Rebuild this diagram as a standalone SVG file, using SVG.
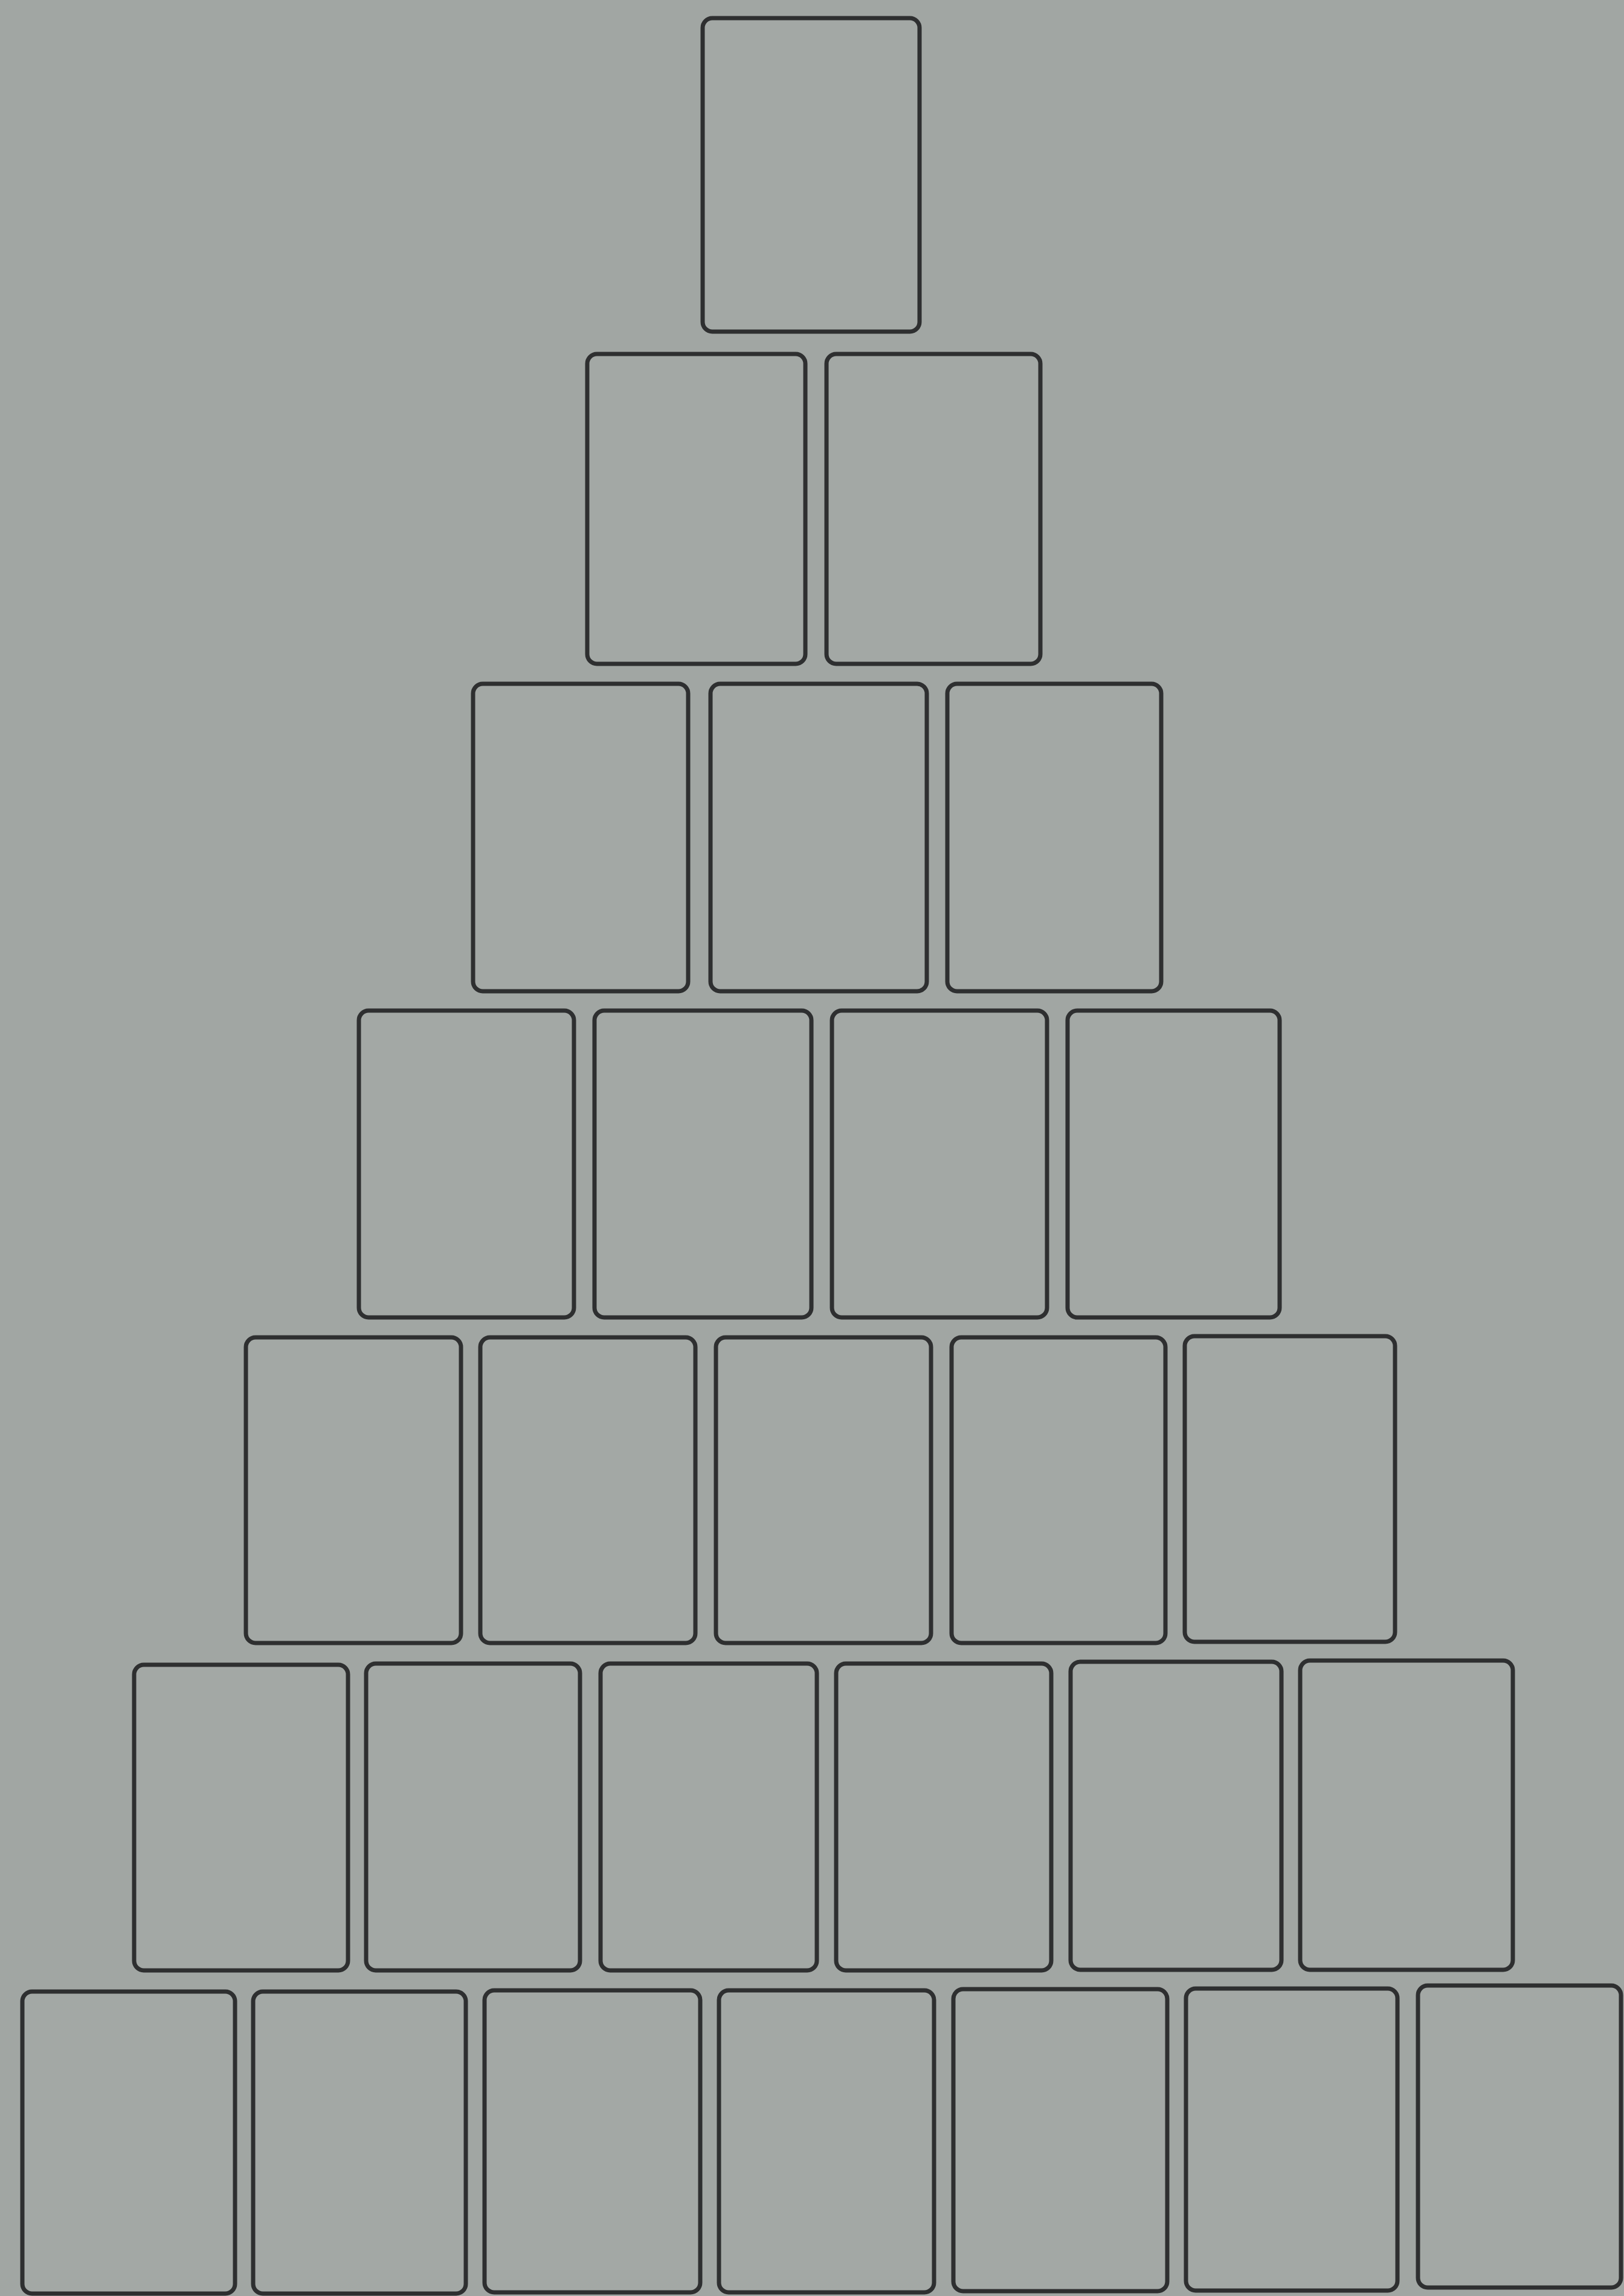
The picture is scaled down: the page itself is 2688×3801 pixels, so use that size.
<svg xmlns="http://www.w3.org/2000/svg" width="2688" height="3801" viewBox="0 0 2688 3801">
<style>
.card{fill:#a3a8a5;stroke:#2e2f30;stroke-width:7}
</style>
<rect x="0" y="0" width="2688" height="3801" fill="#a1a6a3"/>
<g id="row1">
<rect id="c1_1" class="card" x="1163" y="30" width="359" height="519" rx="16"/>
</g>
<g id="row2">
<rect id="c2_1" class="card" x="972" y="586" width="361" height="513" rx="16"/>
<rect id="c2_2" class="card" x="1368" y="586" width="354" height="513" rx="16"/>
</g>
<g id="row3">
<rect id="c3_1" class="card" x="783" y="1132" width="356" height="509" rx="16"/>
<rect id="c3_2" class="card" x="1176" y="1132" width="358" height="509" rx="16"/>
<rect id="c3_3" class="card" x="1568" y="1132" width="354" height="509" rx="16"/>
</g>
<g id="row4">
<rect id="c4_1" class="card" x="594" y="1673" width="356" height="508" rx="16"/>
<rect id="c4_2" class="card" x="984" y="1673" width="359" height="508" rx="16"/>
<rect id="c4_3" class="card" x="1377" y="1673" width="356" height="508" rx="16"/>
<rect id="c4_4" class="card" x="1767" y="1673" width="351" height="508" rx="16"/>
</g>
<g id="row5">
<rect id="c5_1" class="card" x="407" y="2214" width="356" height="506" rx="16"/>
<rect id="c5_2" class="card" x="795" y="2214" width="356" height="506" rx="16"/>
<rect id="c5_3" class="card" x="1185" y="2214" width="356" height="506" rx="16"/>
<rect id="c5_4" class="card" x="1575" y="2214" width="354" height="506" rx="16"/>
<rect id="c5_5" class="card" x="1961" y="2212" width="348" height="506" rx="16"/>
</g>
<g id="row6">
<rect id="c6_1" class="card" x="222" y="2756" width="354" height="506" rx="16"/>
<rect id="c6_2" class="card" x="606" y="2754" width="354" height="508" rx="16"/>
<rect id="c6_3" class="card" x="994" y="2754" width="358" height="508" rx="16"/>
<rect id="c6_4" class="card" x="1384" y="2754" width="356" height="508" rx="16"/>
<rect id="c6_5" class="card" x="1772" y="2751" width="349" height="510" rx="16"/>
<rect id="c6_6" class="card" x="2152" y="2749" width="352" height="512" rx="16"/>
</g>
<g id="row7">
<rect id="c7_1" class="card" x="37" y="3297" width="352" height="500" rx="16"/>
<rect id="c7_2" class="card" x="419" y="3297" width="352" height="500" rx="16"/>
<rect id="c7_3" class="card" x="802" y="3295" width="357" height="500" rx="16"/>
<rect id="c7_4" class="card" x="1190" y="3295" width="356" height="500" rx="16"/>
<rect id="c7_5" class="card" x="1578" y="3293" width="354" height="500" rx="16"/>
<rect id="c7_6" class="card" x="1963" y="3292" width="350" height="500" rx="16"/>
<rect id="c7_7" class="card" x="2347" y="3287" width="336" height="500" rx="16"/>
</g>
<g id="connectors"></g>
</svg>
